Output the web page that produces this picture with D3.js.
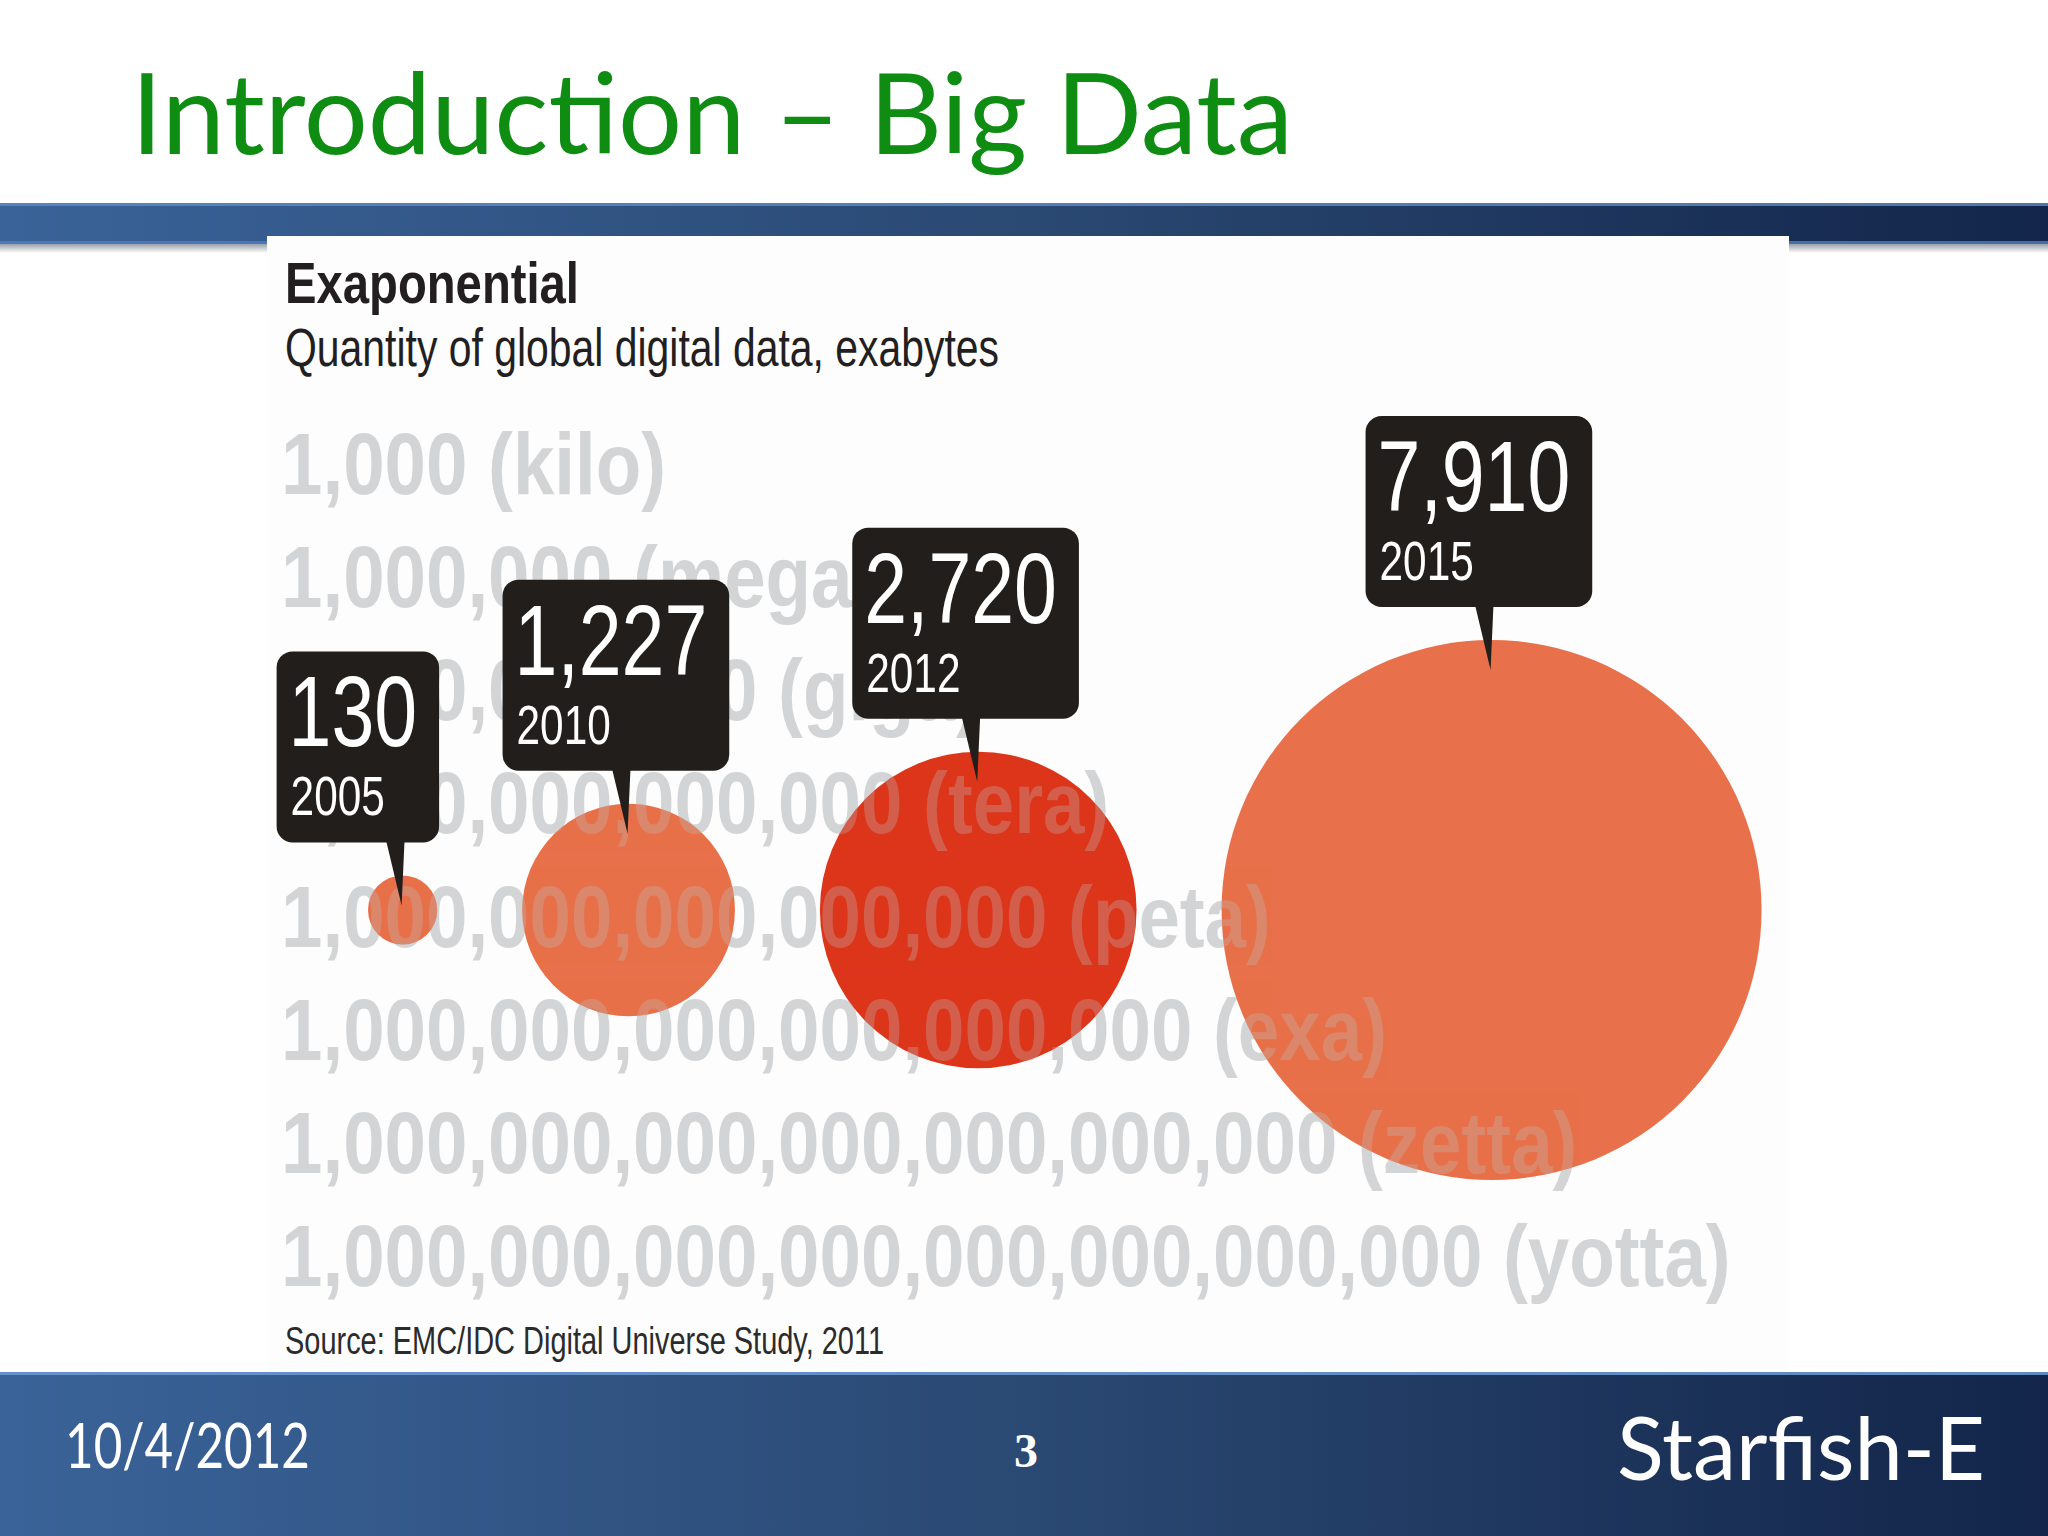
<!DOCTYPE html>
<html>
<head>
<meta charset="utf-8">
<script src="https://cdn.jsdelivr.net/npm/d3@7"></script>
<style>
  body { margin: 0; background: #fff; }
  text { font-family: "Liberation Sans", Arial, sans-serif; }
  .slide-text { font-family: Lato, "Open Sans", sans-serif; }
</style>
</head>
<body>
<div id="slide"></div>
<script>
// DATA
var years = ["2005", "2010", "2012", "2015"];
var exabytes = [130, 1227, 2720, 7910];
var valueLabels = ["130", "1,227", "2,720", "7,910"];

var scaleLabels = [
  "1,000 (kilo)",
  "1,000,000 (mega)",
  "1,000,000,000 (giga)",
  "1,000,000,000,000 (tera)",
  "1,000,000,000,000,000 (peta)",
  "1,000,000,000,000,000,000 (exa)",
  "1,000,000,000,000,000,000,000 (zetta)",
  "1,000,000,000,000,000,000,000,000 (yotta)"
];

var slideTitle = "Introduction \u2013 Big Data";
var chartTitle = "Exaponential";
var chartSubtitle = "Quantity of global digital data, exabytes";
var sourceNote = "Source: EMC/IDC Digital Universe Study, 2011";
var footerDate = "10/4/2012";
var footerPage = "3";
var footerBrand = "Starfish-E";

// SETUP
var W = 2048, H = 1536;
var svg = d3.select("#slide").append("svg")
    .attr("width", W)
    .attr("height", H);

var defs = svg.append("defs");

var band = defs.append("linearGradient").attr("id", "band");
band.append("stop").attr("offset", "0").attr("stop-color", "#3a6399");
band.append("stop").attr("offset", "0.5").attr("stop-color", "#2a4973");
band.append("stop").attr("offset", "1").attr("stop-color", "#13254a");

var shadow = defs.append("linearGradient").attr("id", "shadow")
    .attr("x1", 0).attr("x2", 0).attr("y1", 0).attr("y2", 1);
shadow.append("stop").attr("offset", "0").attr("stop-color", "#9aa0a8");
shadow.append("stop").attr("offset", "1").attr("stop-color", "#ffffff");

// slide bands
svg.append("rect").attr("x", 0).attr("y", 203).attr("width", W).attr("height", 42)
    .attr("fill", "url(#band)");
svg.append("rect").attr("x", 0).attr("y", 203).attr("width", W).attr("height", 3)
    .attr("fill", "#5f8cc6").attr("opacity", 0.8);
svg.append("rect").attr("x", 0).attr("y", 241).attr("width", W).attr("height", 3)
    .attr("fill", "#4f7fbf").attr("opacity", 0.8);
svg.append("rect").attr("x", 0).attr("y", 244).attr("width", W).attr("height", 9)
    .attr("fill", "url(#shadow)");

svg.append("rect").attr("x", 0).attr("y", 1372).attr("width", W).attr("height", H - 1372)
    .attr("fill", "url(#band)");
svg.append("rect").attr("x", 0).attr("y", 1372).attr("width", W).attr("height", 3)
    .attr("fill", "#6a96cf").attr("opacity", 0.9);

// picture panel
svg.append("rect").attr("x", 267).attr("y", 236).attr("width", 1522).attr("height", 1136)
    .attr("fill", "#fdfdfd");

// slide title
svg.append("text").attr("class", "slide-text")
    .attr("x", 131).attr("y", 154)
    .attr("font-size", 112)
    .attr("fill", "#0f8d12")
    .attr("textLength", 1162).attr("lengthAdjust", "spacingAndGlyphs")
    .text(slideTitle);

// chart titles
svg.append("text")
    .attr("x", 285).attr("y", 303)
    .attr("font-size", 58).attr("font-weight", "bold")
    .attr("fill", "#231f20")
    .attr("textLength", 294).attr("lengthAdjust", "spacingAndGlyphs")
    .text(chartTitle);

svg.append("text")
    .attr("x", 285).attr("y", 366)
    .attr("font-size", 54)
    .attr("fill", "#231f20")
    .attr("textLength", 714).attr("lengthAdjust", "spacingAndGlyphs")
    .text(chartSubtitle);

svg.append("text")
    .attr("x", 285).attr("y", 1354)
    .attr("font-size", 38)
    .attr("fill", "#2b2b2b")
    .attr("textLength", 599).attr("lengthAdjust", "spacingAndGlyphs")
    .text(sourceNote);

// SCALES
var yScale = d3.scalePoint().domain(scaleLabels).range([494, 1286]);
var rScale = d3.scaleSqrt().domain([0, d3.max(exabytes)]).range([0, 270]);
var cy = 910;

// pack circles left to right
var gap = 85, run = 368;
var bubbles = exabytes.map(function(v, i) {
  var r = rScale(v);
  var d = { year: years[i], value: v, label: valueLabels[i], r: r, cx: run + r };
  run += 2 * r + gap;
  return d;
});

var color = d3.scaleOrdinal().domain(years)
    .range(["#e8704a", "#e8704a", "#dc351b", "#e8704a"]);

// gray magnitude labels (behind)
var labelFont = 88;
var back = svg.append("g");
var backText = back.selectAll("text")
    .data(scaleLabels)
    .enter().append("text")
    .attr("x", 0)
    .attr("y", function(d) { return yScale(d); })
    .attr("font-size", labelFont).attr("font-weight", "bold")
    .attr("fill", "#d3d4d6")
    .text(function(d) { return d; });

var longest = d3.max(backText.nodes(), function(n) { return n.getComputedTextLength(); });
var squeeze = 1450 / longest;
back.attr("transform", "translate(281,0) scale(" + squeeze + ",1)");

// circles
var clip = defs.append("clipPath").attr("id", "bubbleClip");
clip.selectAll("circle")
    .data(bubbles)
    .enter().append("circle")
    .attr("cx", function(d) { return d.cx; })
    .attr("cy", cy)
    .attr("r", function(d) { return d.r; });

svg.append("g").selectAll("circle")
    .data(bubbles)
    .enter().append("circle")
    .attr("cx", function(d) { return d.cx; })
    .attr("cy", cy)
    .attr("r", function(d) { return d.r; })
    .attr("fill", function(d) { return color(d.year); });

// faint labels showing through the circles
var front = svg.append("g").attr("clip-path", "url(#bubbleClip)")
    .append("g")
    .attr("transform", "translate(281,0) scale(" + squeeze + ",1)");
front.selectAll("text")
    .data(scaleLabels)
    .enter().append("text")
    .attr("x", 0)
    .attr("y", function(d) { return yScale(d); })
    .attr("font-size", labelFont).attr("font-weight", "bold")
    .attr("fill", "#bdbdbd").attr("opacity", 0.3)
    .text(function(d) { return d; });

// callouts
var boxH = 191, condense = 0.77, ink = "#221e1b";

var callouts = svg.append("g").selectAll("g")
    .data(bubbles)
    .enter().append("g")
    .attr("transform", function(d) {
      return "translate(" + (d.cx - 126) + "," + (cy - d.r - 33 - boxH) + ")";
    });

// pointer
callouts.append("path")
    .attr("fill", ink)
    .attr("d", function(d) {
      var tipY = boxH + 33 + Math.min(30, d.r);
      return "M109," + (boxH - 4) + "L128," + (boxH - 4) + "L125," + tipY + "Z";
    });

var box = callouts.append("rect")
    .attr("y", 0).attr("height", boxH)
    .attr("rx", 16).attr("ry", 16)
    .attr("fill", ink);

var num = callouts.append("g")
    .attr("transform", "translate(12,95) scale(" + condense + ",1)")
    .append("text")
    .attr("font-size", 100)
    .attr("fill", "#ffffff")
    .text(function(d) { return d.label; });

callouts.append("g")
    .attr("transform", "translate(14,164) scale(" + condense + ",1)")
    .append("text")
    .attr("font-size", 55)
    .attr("fill", "#ffffff")
    .text(function(d) { return d.year; });

box.attr("width", function(d, i) {
  return 12 + num.nodes()[i].getComputedTextLength() * condense + 22;
});

// footer
svg.append("text").attr("class", "slide-text")
    .attr("x", 65).attr("y", 1468)
    .attr("font-size", 61)
    .attr("fill", "#ffffff")
    .attr("textLength", 245).attr("lengthAdjust", "spacingAndGlyphs")
    .text(footerDate);

svg.append("text")
    .attr("x", 1026).attr("y", 1467)
    .attr("text-anchor", "middle")
    .attr("font-family", "'Liberation Serif', serif")
    .style("font-family", "'Liberation Serif', serif")
    .attr("font-size", 48).attr("font-weight", "bold")
    .attr("fill", "#ffffff")
    .text(footerPage);

svg.append("text").attr("class", "slide-text")
    .attr("x", 1617).attr("y", 1480)
    .attr("font-size", 88)
    .attr("fill", "#ffffff")
    .attr("textLength", 368).attr("lengthAdjust", "spacingAndGlyphs")
    .text(footerBrand);
</script>
</body>
</html>
